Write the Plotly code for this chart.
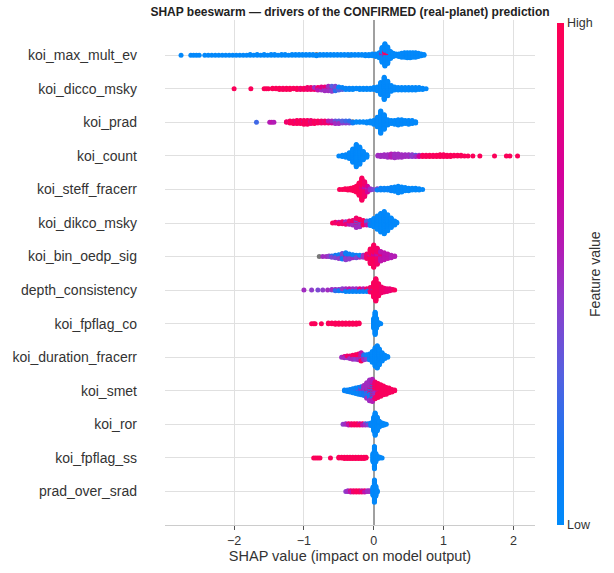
import math
import plotly.graph_objects as go

# ---------------- data: (SHAP value, number of samples, normalised feature value; None = missing) -------------
FEATURES = ["koi_max_mult_ev", "koi_dicco_msky", "koi_prad", "koi_count", "koi_steff_fracerr",
            "koi_dikco_msky", "koi_bin_oedp_sig", "depth_consistency", "koi_fpflag_co",
            "koi_duration_fracerr", "koi_smet", "koi_ror", "koi_fpflag_ss", "prad_over_srad"]

koi_max_mult_ev = [
    (-2.76, 1, .02), (-2.62, 1, .02), (-2.58, 1, .02), (-2.54, 1, .02), (-2.50, 1, .02),
    (-2.42, 1, .02), (-2.37, 1, .02), (-2.32, 1, .02), (-2.27, 1, .02), (-2.22, 1, .02), (-2.17, 1, .02),
    (-2.12, 1, .02), (-2.07, 1, .02), (-2.02, 1, .02), (-1.97, 1, .02), (-1.92, 1, .02), (-1.87, 1, .02),
    (-1.82, 1, .02), (-1.77, 2, .02), (-1.72, 1, .02), (-1.67, 2, .02), (-1.62, 1, .02), (-1.57, 2, .02),
    (-1.52, 1, .02), (-1.47, 2, .02), (-1.42, 2, .02), (-1.37, 1, .02), (-1.32, 2, .02), (-1.27, 2, .02),
    (-1.22, 1, .02), (-1.17, 2, .02), (-1.12, 2, .02), (-1.07, 2, .02), (-1.02, 2, .02), (-0.97, 2, .02),
    (-0.92, 2, .02), (-0.87, 2, .02), (-0.82, 2, .02), (-0.82, 1, None), (-0.77, 2, .02), (-0.72, 2, .02),
    (-0.67, 2, .02), (-0.62, 2, .02), (-0.57, 2, .02), (-0.52, 2, .02), (-0.47, 2, .02), (-0.42, 2, .02),
    (-0.37, 2, .02), (-0.35, 1, None), (-0.32, 2, .02), (-0.27, 2, .02), (-0.22, 2, .02), (-0.17, 2, .02),
    (-0.12, 3, .02), (-0.07, 3, .02), (-0.02, 4, .02), (0.03, 5, .02), (0.08, 9, .02), (0.12, 20, .02),
    (0.12, 4, .6), (0.16, 28, .02), (0.16, 6, .95), (0.16, 2, .5), (0.20, 22, .02), (0.20, 5, .95),
    (0.24, 12, .02), (0.28, 6, .02), (0.32, 4, .02), (0.36, 5, .02), (0.40, 7, .02), (0.44, 8, .02),
    (0.48, 9, .02), (0.52, 9, .02), (0.56, 8, .02), (0.60, 8, .02), (0.64, 6, .02), (0.68, 4, .02),
    (0.72, 2, .02)]

koi_dicco_msky = [
    (-2.00, 1, .97), (-1.76, 1, .97), (-1.57, 1, .97), (-1.54, 1, .97), (-1.51, 1, .97),
    (-1.45, 2, .97), (-1.40, 2, .97), (-1.35, 3, .97), (-1.30, 3, .95), (-1.25, 3, .97), (-1.20, 3, .97),
    (-1.15, 2, .95), (-1.10, 3, .97), (-1.05, 3, .9), (-1.00, 3, .95), (-0.95, 3, .9), (-0.95, 1, .6),
    (-0.90, 3, .9), (-0.90, 1, .55), (-0.85, 2, .9), (-0.85, 2, .5), (-0.80, 3, .6), (-0.80, 2, .9),
    (-0.75, 3, .5), (-0.75, 3, .8), (-0.70, 3, .5), (-0.70, 2, .3), (-0.70, 2, .85), (-0.65, 4, .5),
    (-0.65, 2, .35), (-0.65, 2, .8), (-0.60, 4, .45), (-0.60, 3, .3), (-0.60, 2, .7), (-0.55, 4, .4),
    (-0.55, 3, .2), (-0.55, 1, .7), (-0.50, 3, .3), (-0.50, 3, .05), (-0.45, 2, .3), (-0.45, 2, .05),
    (-0.40, 3, .05), (-0.35, 3, .05), (-0.30, 3, .02), (-0.25, 2, .02), (-0.20, 3, .02), (-0.15, 3, .02),
    (-0.10, 3, .02), (-0.05, 3, .02), (0.00, 4, .02), (0.05, 7, .02), (0.10, 20, .02), (0.15, 36, .02),
    (0.20, 24, .02), (0.25, 10, .02), (0.30, 6, .02), (0.35, 5, .02), (0.40, 5, .02), (0.45, 5, .02),
    (0.50, 5, .02), (0.55, 5, .02), (0.60, 5, .02), (0.65, 4, .02), (0.70, 3, .02), (0.75, 1, .02)]

koi_prad = [
    (-1.68, 1, .25), (-1.49, 1, .55), (-1.46, 1, .6), (-1.43, 1, .55),
    (-1.25, 2, .9), (-1.20, 3, .95), (-1.20, 1, .5), (-1.15, 4, .95), (-1.15, 1, .55), (-1.10, 4, .95),
    (-1.10, 2, .6), (-1.05, 5, .95), (-1.05, 1, .5), (-1.00, 5, .95), (-1.00, 2, .55), (-0.95, 5, .95),
    (-0.95, 2, .5), (-0.90, 4, .9), (-0.90, 2, .5), (-0.85, 4, .95), (-0.85, 1, .5), (-0.80, 3, .95),
    (-0.80, 1, .5), (-0.75, 3, .9), (-0.75, 1, .6), (-0.70, 3, .9), (-0.70, 1, .5), (-0.65, 2, .9),
    (-0.65, 2, .55), (-0.60, 2, .7), (-0.60, 2, .5), (-0.55, 3, .5), (-0.55, 2, .35), (-0.50, 3, .5),
    (-0.50, 2, .3), (-0.45, 2, .45), (-0.45, 2, .3), (-0.40, 2, .45), (-0.40, 2, .25), (-0.35, 2, .4),
    (-0.35, 2, .2), (-0.30, 2, .1), (-0.30, 1, None), (-0.25, 2, .02), (-0.20, 2, .02), (-0.15, 2, .02),
    (-0.10, 3, .02), (-0.05, 4, .02), (0.00, 7, .02), (0.05, 16, .02), (0.10, 36, .02), (0.15, 24, .02),
    (0.20, 9, .02), (0.25, 6, .02), (0.30, 7, .02), (0.35, 9, .02), (0.40, 8, .02), (0.45, 6, .02),
    (0.50, 7, .02), (0.55, 6, .02), (0.60, 3, .02)]

koi_count = [
    (-0.50, 1, .02), (-0.45, 3, .02), (-0.40, 5, .02), (-0.35, 10, .02), (-0.30, 22, .02), (-0.25, 36, .02),
    (-0.20, 28, .02), (-0.15, 14, .02), (-0.10, 5, .02),
    (0.06, 2, .5), (0.10, 3, .5), (0.15, 4, .5), (0.20, 5, .5), (0.25, 6, .55), (0.30, 7, .5), (0.35, 6, .5),
    (0.40, 5, .5), (0.45, 4, .5), (0.50, 3, .5), (0.50, 1, .3), (0.55, 3, .45), (0.55, 1, .25), (0.60, 2, .5),
    (0.60, 1, .3), (0.65, 2, .7), (0.65, 1, .5),
    (0.70, 3, .95), (0.75, 3, .95), (0.80, 3, .97), (0.85, 3, .95), (0.90, 3, .97), (0.95, 4, .97),
    (1.00, 4, .95), (1.05, 3, .97), (1.10, 3, .97), (1.15, 2, .97), (1.20, 2, .97), (1.25, 2, .97),
    (1.30, 1, .97), (1.35, 1, .97), (1.42, 1, .97), (1.52, 1, .97), (1.73, 1, .97), (1.90, 1, .97),
    (1.95, 1, .97), (2.06, 1, .97)]

koi_steff_fracerr = [
    (-0.49, 1, .97), (-0.45, 1, .97), (-0.41, 2, .97), (-0.37, 3, .97), (-0.33, 4, .97), (-0.29, 6, .97),
    (-0.25, 10, .97), (-0.21, 20, .97), (-0.17, 30, .95), (-0.17, 6, .8), (-0.13, 18, .9), (-0.13, 6, .6),
    (-0.09, 6, .7), (-0.09, 4, .5), (-0.05, 3, .5), (-0.01, 1, .4),
    (0.05, 2, .05), (0.05, 1, .4), (0.10, 3, .05), (0.10, 1, .35), (0.15, 3, .05), (0.15, 1, .3),
    (0.20, 4, .05), (0.25, 6, .05), (0.30, 8, .02), (0.35, 11, .02), (0.40, 9, .02), (0.45, 6, .02),
    (0.50, 5, .02), (0.55, 4, .02), (0.60, 4, .02), (0.65, 3, .02), (0.70, 1, .02)]

koi_dikco_msky = [
    (-0.59, 1, .97), (-0.55, 2, .9), (-0.50, 2, .95), (-0.50, 1, .6), (-0.45, 3, .9), (-0.45, 1, .5),
    (-0.40, 3, .85), (-0.40, 2, .5), (-0.35, 3, .6), (-0.35, 3, .9), (-0.30, 4, .5), (-0.30, 4, .9),
    (-0.25, 6, .5), (-0.25, 6, .9), (-0.25, 4, .3), (-0.20, 5, .95), (-0.20, 5, .5), (-0.20, 3, .3),
    (-0.15, 5, .95), (-0.15, 3, .6), (-0.10, 4, .6), (-0.10, 3, .3), (-0.05, 6, .05), (-0.05, 3, .4),
    (0.00, 14, .02), (0.05, 22, .02), (0.10, 30, .02), (0.15, 36, .02), (0.20, 26, .02), (0.25, 16, .02),
    (0.30, 7, .02), (0.33, 2, .02)]

koi_bin_oedp_sig = [
    (-0.78, 1, None), (-0.73, 1, .5), (-0.68, 1, .5), (-0.64, 2, .45), (-0.60, 2, .4), (-0.60, 1, .2),
    (-0.55, 3, .4), (-0.55, 2, .15), (-0.50, 4, .45), (-0.50, 3, .1), (-0.45, 5, .4), (-0.45, 4, .1),
    (-0.45, 1, .8), (-0.40, 5, .45), (-0.40, 5, .1), (-0.40, 2, .8), (-0.35, 5, .45), (-0.35, 4, .1),
    (-0.30, 3, .5), (-0.30, 3, .1), (-0.25, 3, .4), (-0.25, 2, .1), (-0.20, 2, .5), (-0.20, 2, .05),
    (-0.15, 3, .5), (-0.15, 1, .05), (-0.10, 6, .9), (-0.10, 2, .6), (-0.05, 20, .95), (-0.05, 4, .6),
    (0.00, 30, .95), (0.00, 6, .7), (0.05, 20, .9), (0.05, 6, .6), (0.10, 10, .6), (0.10, 6, .85),
    (0.15, 10, .6), (0.15, 2, .85), (0.20, 8, .6), (0.25, 5, .55), (0.30, 2, .55)]

depth_consistency = [
    (-1.00, 1, .5), (-0.89, 1, .45), (-0.80, 1, .4), (-0.73, 1, .45), (-0.66, 1, .5), (-0.60, 1, .3),
    (-0.60, 1, .5), (-0.55, 2, .2), (-0.55, 1, .5), (-0.50, 2, .1), (-0.50, 1, .5), (-0.45, 2, .1),
    (-0.45, 2, .45), (-0.40, 3, .05), (-0.40, 2, .5), (-0.35, 3, .05), (-0.35, 2, .6), (-0.30, 3, .05),
    (-0.30, 2, .5), (-0.25, 3, .05), (-0.25, 2, .5), (-0.20, 3, .05), (-0.20, 2, .8), (-0.15, 3, .05),
    (-0.15, 2, .6), (-0.10, 3, .05), (-0.10, 2, .9), (-0.05, 5, .9), (-0.05, 3, .05), (0.00, 22, .95),
    (0.00, 2, .05), (0.03, 36, .95), (0.07, 18, .95), (0.07, 2, .7), (0.11, 10, .9), (0.15, 7, .9),
    (0.19, 5, .85), (0.23, 4, .85), (0.27, 2, .9), (0.30, 1, .95)]

koi_fpflag_co = [
    (-0.89, 1, .97), (-0.86, 1, .97), (-0.84, 1, .97), (-0.75, 1, .97), (-0.65, 2, .97), (-0.60, 2, .97),
    (-0.55, 3, .97), (-0.50, 3, .97), (-0.45, 3, .97), (-0.40, 3, .97), (-0.35, 3, .97), (-0.30, 3, .97),
    (-0.25, 3, .97), (-0.21, 2, .97),
    (0.00, 16, .02), (0.02, 36, .02), (0.04, 16, .02), (0.06, 5, .02), (0.08, 2, .02), (0.10, 1, .02)]

koi_duration_fracerr = [
    (-0.46, 1, .5), (-0.42, 2, .5), (-0.42, 1, .8), (-0.38, 2, .45), (-0.38, 2, .9), (-0.34, 3, .5),
    (-0.34, 2, .9), (-0.30, 4, .5), (-0.30, 3, .95), (-0.26, 4, .45), (-0.26, 4, .95), (-0.22, 5, .5),
    (-0.22, 5, .95), (-0.18, 6, .6), (-0.18, 5, .95), (-0.18, 3, .3), (-0.14, 5, .5), (-0.14, 4, .2),
    (-0.10, 4, .4), (-0.10, 4, .05), (-0.06, 8, .05), (-0.06, 2, .5), (-0.02, 18, .02), (0.02, 30, .02),
    (0.05, 36, .02), (0.08, 26, .02), (0.12, 14, .02), (0.16, 6, .02), (0.20, 2, .02)]

koi_smet = [
    (-0.42, 2, .05), (-0.38, 3, .05), (-0.34, 5, .05), (-0.30, 6, .05), (-0.30, 1, .4), (-0.26, 7, .05),
    (-0.26, 2, .4), (-0.22, 8, .05), (-0.22, 3, .45), (-0.18, 8, .1), (-0.18, 5, .5), (-0.14, 8, .15),
    (-0.14, 8, .5), (-0.10, 10, .2), (-0.10, 12, .5), (-0.10, 2, .8), (-0.06, 12, .1), (-0.06, 16, .5),
    (-0.06, 4, .85), (-0.02, 10, .1), (-0.02, 16, .55), (-0.02, 8, .9), (0.02, 10, .5), (0.02, 16, .9),
    (0.06, 4, .6), (0.06, 18, .95), (0.10, 2, .6), (0.10, 16, .95), (0.14, 14, .95), (0.18, 11, .95),
    (0.22, 8, .95), (0.26, 5, .95), (0.30, 2, .95)]

koi_ror = [
    (-0.44, 1, .45), (-0.40, 2, .5), (-0.36, 2, .6), (-0.36, 1, .9), (-0.32, 3, .9), (-0.28, 3, .95),
    (-0.24, 3, .95), (-0.20, 2, .95), (-0.20, 1, .6), (-0.16, 2, .6), (-0.16, 1, .9), (-0.12, 2, .5),
    (-0.12, 1, .3), (-0.08, 2, .4), (-0.08, 1, .1), (-0.04, 5, .05), (0.00, 22, .02), (0.02, 36, .02),
    (0.05, 22, .02), (0.08, 10, .02), (0.12, 5, .02), (0.15, 3, .02), (0.18, 1, .02)]

koi_fpflag_ss = [
    (-0.86, 1, .97), (-0.83, 1, .97), (-0.80, 1, .97), (-0.77, 1, .97), (-0.62, 1, .97), (-0.50, 2, .97),
    (-0.46, 2, .97), (-0.42, 3, .97), (-0.38, 3, .97), (-0.34, 3, .97), (-0.30, 3, .97), (-0.26, 3, .97),
    (-0.22, 3, .97), (-0.18, 3, .97), (-0.14, 3, .97), (-0.11, 2, .97),
    (-0.01, 14, .02), (0.01, 36, .02), (0.03, 14, .02), (0.06, 4, .02), (0.09, 2, .02), (0.12, 1, .02)]

prad_over_srad = [
    (-0.40, 1, .45), (-0.37, 2, .5), (-0.33, 2, .6), (-0.33, 1, .9), (-0.29, 3, .9), (-0.25, 3, .95),
    (-0.21, 3, .95), (-0.17, 2, .9), (-0.17, 1, .6), (-0.13, 2, .6), (-0.13, 1, .9), (-0.09, 2, .5),
    (-0.06, 2, .5),
    (-0.01, 14, .02), (0.01, 36, .02), (0.03, 16, .02), (0.05, 3, .02)]

ROWS = [koi_max_mult_ev, koi_dicco_msky, koi_prad, koi_count, koi_steff_fracerr, koi_dikco_msky,
        koi_bin_oedp_sig, depth_consistency, koi_fpflag_co, koi_duration_fracerr, koi_smet, koi_ror,
        koi_fpflag_ss, prad_over_srad]

X_TICKS = [-2, -1, 0, 1, 2]

# SHAP red-blue colormap (approximation)
RED_BLUE = [[0.0, "#008bfb"], [0.15, "#1477f2"], [0.3, "#5560e0"], [0.45, "#8f3ccb"],
            [0.55, "#b31cb5"], [0.7, "#d4009a"], [0.85, "#ec0077"], [1.0, "#ff0052"]]

# ---------------- beeswarm layout (SHAP-style layering within each column) ----------------
xs, ys, cs = [], [], []
gx, gy = [], []
n_feat = len(FEATURES)
for i, data in enumerate(ROWS):
    pos = n_feat - 1 - i
    cols = {}
    for x, n, v in data:
        cols.setdefault(x, []).append([n, v])
    maxn = max(sum(e[0] for e in c) for c in cols.values())
    maxoff = math.ceil((maxn - 1) / 2)
    step = 0.9 * 0.4 / (maxoff + 1)
    for x, entries in cols.items():
        rem = [list(e) for e in entries]
        seq = []
        while any(e[0] > 0 for e in rem):
            for e in rem:
                if e[0] > 0:
                    seq.append(e[1])
                    e[0] -= 1
        for layer, v in enumerate(seq):
            off = math.ceil(layer / 2) * ((layer % 2) * 2 - 1) * step
            if v is None:
                gx.append(x); gy.append(pos + off)
            else:
                xs.append(x); ys.append(pos + off); cs.append(v)

FONT = "Liberation Sans, Arial, sans-serif"

fig = go.Figure()
fig.add_trace(go.Scatter(x=gx, y=gy, mode="markers", hoverinfo="skip", showlegend=False,
                         marker=dict(size=5, color="#777777", line=dict(width=0))))
fig.add_trace(go.Scatter(x=xs, y=ys, mode="markers", showlegend=False,
                         marker=dict(size=5, color=cs, coloraxis="coloraxis", line=dict(width=0))))

fig.add_annotation(text="Feature value", xref="paper", yref="paper", x=1.162, y=0.497,
                   textangle=-90, showarrow=False, font=dict(size=14, color="#333333"),
                   xanchor="center", yanchor="middle")

fig.update_layout(
    width=614, height=573,
    margin=dict(l=165, r=79, t=20, b=48),
    paper_bgcolor="white", plot_bgcolor="white",
    font=dict(family=FONT, color="#333333", size=13),
    title=dict(text="<b>SHAP beeswarm — drivers of the CONFIRMED (real-planet) prediction</b>",
               xref="paper", x=0.5, xanchor="center", y=0.979, yanchor="middle",
               font=dict(size=12, color="#222222")),
    coloraxis=dict(
        cmin=0, cmax=1, colorscale=RED_BLUE,
        colorbar=dict(thickness=7, len=0.994, lenmode="fraction", y=0.497, yanchor="middle",
                      x=1.0595, xanchor="left", xpad=0, ypad=0, outlinewidth=0,
                      tickvals=[0, 1], ticktext=["Low", "High"], ticks="",
                      tickfont=dict(size=12.5, color="#333333"))
    ),
    xaxis=dict(range=[-2.99, 2.31], tickvals=X_TICKS, showgrid=True, gridcolor="#e0e0e0", gridwidth=1,
               zeroline=True, zerolinecolor="#a0a0a0", zerolinewidth=1.5,
               showline=True, linecolor="#cccccc", linewidth=1,
               ticks="outside", ticklen=4, tickcolor="#555555", tickfont=dict(size=12.5),
               title=dict(text="SHAP value (impact on model output)", font=dict(size=14.5), standoff=3)),
    yaxis=dict(range=[-1, 14.05], tickvals=list(range(n_feat)), ticktext=FEATURES[::-1],
               showgrid=True, gridcolor="#e0e0e0", gridwidth=1, zeroline=False, showline=False,
               ticks="", ticklabelstandoff=27, tickfont=dict(size=14)),
)

fig.write_html("out.html")
